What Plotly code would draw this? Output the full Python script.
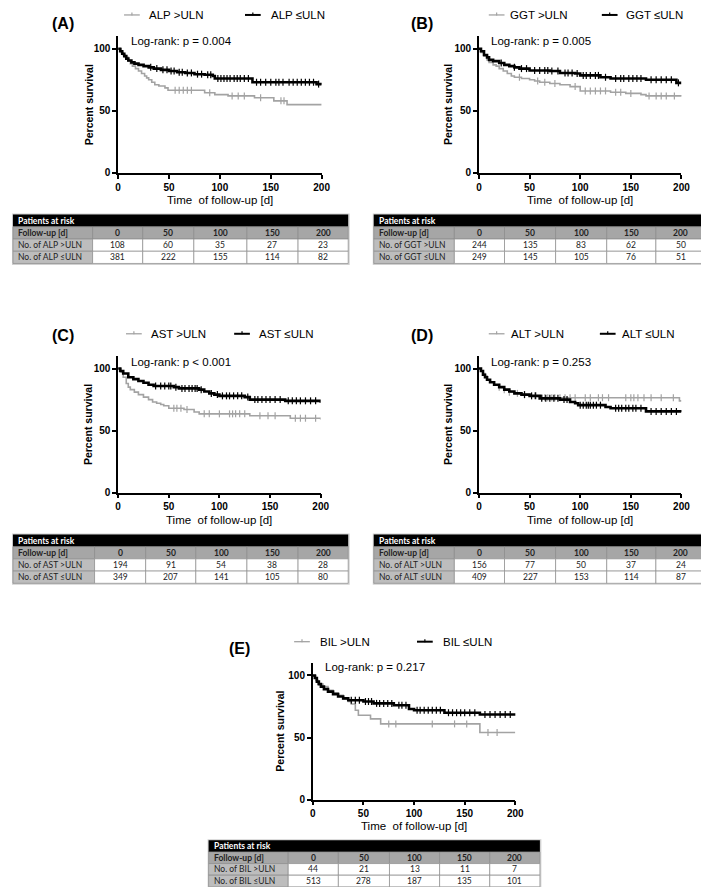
import numpy as np
import plotly.graph_objects as go

W, H = 709, 887

# ---------------- data ----------------
FOLLOW_UP = [0, 50, 100, 150, 200]

# Panel A (ALP)
A_hi_t = [0, 3, 5, 7, 10, 12, 14, 17, 20, 23, 26, 28, 30, 33, 36, 40, 46, 49, 85, 95, 108, 134, 153, 166, 200]
A_hi_s = [100, 97, 95, 93, 90, 88, 86, 84, 82, 80, 78, 76.5, 75, 73, 71, 70, 68.5, 66.5, 64.5, 63, 62, 60.5, 58, 55, 55]
A_hi_c = [56, 60, 64, 68, 72, 90, 112, 118, 124, 140, 160, 163]
A_lo_t = [0, 2, 4, 6, 8, 10, 13, 16, 20, 25, 30, 35, 42, 50, 58, 66, 75, 85, 93, 95, 132, 195, 200]
A_lo_s = [100, 98, 96, 94, 92, 90.5, 89, 88, 87, 86, 85, 84, 83, 82, 81, 80.5, 79.5, 79, 78, 76, 73, 71.5, 71]
A_lo_c = [32, 38, 44, 48, 52, 55, 60, 63, 68, 72, 78, 82, 88, 91, 98, 101, 104, 107, 110, 114, 117, 120,
          124, 128, 136, 140, 145, 150, 155, 158, 162, 168, 172, 176, 180, 184, 188, 192, 197]
A_risk_hi = [108, 60, 35, 27, 23]
A_risk_lo = [381, 222, 155, 114, 82]

# Panel B (GGT)
B_hi_t = [0, 2, 5, 8, 10, 14, 17, 20, 24, 28, 32, 35, 42, 50, 55, 60, 70, 80, 90, 100, 130, 145, 160, 165, 200]
B_hi_s = [100, 97, 94, 91, 89, 87, 86, 84, 82, 80, 78, 77, 76, 75, 74, 73, 72, 71, 69.5, 66, 65, 64, 63, 62, 61.5]
B_hi_c = [40, 58, 65, 75, 95, 105, 110, 115, 120, 125, 135, 140, 150, 168, 175, 180, 185, 193]
B_lo_t = [0, 2, 5, 8, 10, 14, 20, 25, 30, 35, 40, 50, 70, 80, 95, 100, 120, 130, 165, 195, 200]
B_lo_s = [100, 98, 95, 93, 91, 90, 88.5, 87, 86, 85, 84, 82.5, 82, 80.5, 80, 78.5, 77, 76, 75, 72.5, 72.5]
B_lo_c = [22, 35, 42, 47, 55, 60, 65, 68, 72, 78, 85, 88, 92, 97, 103, 106, 110, 115, 118, 125, 135, 140,
          143, 148, 152, 156, 160, 170, 175, 180, 185, 190, 197]
B_risk_hi = [244, 135, 83, 62, 50]
B_risk_lo = [249, 145, 105, 76, 51]

# Panel C (AST)
C_hi_t = [0, 3, 5, 8, 10, 12, 16, 20, 25, 30, 34, 38, 42, 45, 50, 65, 75, 80, 130, 170, 200]
C_hi_s = [100, 97, 93, 88, 85, 83, 81, 79, 77, 75, 73, 72, 71, 70, 68, 67, 65, 63.5, 62, 60, 59]
C_hi_c = [55, 58, 62, 68, 85, 90, 100, 110, 113, 116, 120, 125, 140, 148, 155, 175, 180, 185, 195]
C_lo_t = [0, 2, 5, 10, 15, 20, 25, 30, 35, 55, 60, 80, 85, 90, 95, 100, 125, 130, 165, 200]
C_lo_s = [100, 98, 96, 93, 91.5, 90, 88.5, 87, 86, 85, 84, 83, 81.5, 80, 79, 78, 77, 75, 74, 72.5]
C_lo_c = [37, 42, 46, 50, 52, 57, 63, 66, 70, 73, 76, 78, 82, 92, 98, 103, 107, 110, 114, 118, 122, 128,
          135, 138, 142, 146, 150, 155, 160, 168, 172, 176, 180, 185, 190, 195]
C_risk_hi = [194, 91, 54, 38, 28]
C_risk_lo = [349, 207, 141, 105, 80]

# Panel D (ALT)
D_hi_t = [0, 2, 4, 6, 8, 11, 15, 20, 25, 30, 35, 42, 50, 60, 198, 200]
D_hi_s = [100, 98, 96, 94, 91, 89, 87, 85, 83, 81, 80, 79, 78, 76.5, 74, 74]
D_hi_c = [20, 25, 30, 38, 45, 55, 62, 65, 68, 72, 75, 80, 85, 90, 95, 105, 110, 118, 122, 128, 145, 150,
          153, 157, 163, 170, 180, 192]
D_lo_t = [0, 2, 4, 6, 8, 11, 15, 20, 25, 30, 35, 42, 50, 60, 80, 90, 95, 98, 125, 130, 165, 200]
D_lo_s = [100, 98, 95, 93, 91, 89, 87, 85, 83, 81.5, 80, 79, 78, 76, 75, 73, 72, 70.5, 69, 68, 65.5, 65]
D_lo_c = [45, 52, 56, 62, 66, 70, 74, 78, 84, 87, 100, 103, 106, 108, 110, 113, 116, 120, 135, 138, 141,
          145, 148, 152, 155, 160, 170, 175, 180, 185, 190, 195]
D_risk_hi = [156, 77, 50, 37, 24]
D_risk_lo = [409, 227, 153, 114, 87]

# Panel E (BIL)
E_hi_t = [0, 3, 5, 10, 15, 20, 25, 30, 35, 38, 42, 45, 57, 67, 165, 200]
E_hi_s = [100, 96, 93, 91, 88, 86, 84, 81, 79, 77, 72, 68, 65, 61, 54, 54]
E_hi_c = [75, 82, 118, 140, 152, 173, 182]
E_lo_t = [0, 2, 4, 6, 8, 11, 15, 20, 25, 30, 35, 50, 60, 80, 95, 100, 130, 165, 200]
E_lo_s = [100, 98, 95, 93, 91, 89, 87, 85, 83, 81.5, 80, 79, 77.5, 76, 73, 72, 70, 68.5, 67.5]
E_lo_c = [38, 42, 46, 52, 55, 58, 63, 66, 70, 74, 78, 85, 88, 92, 103, 106, 110, 114, 118, 122, 126, 134,
          138, 142, 146, 150, 155, 160, 170, 175, 180, 185, 190, 195]
E_risk_hi = [44, 21, 13, 11, 7]
E_risk_lo = [513, 278, 187, 135, 101]

# ---------------- layout (pixels) ----------------
GREY = "#a3a3a3"
FONT = "Liberation Sans, Arial, sans-serif"
TFONT = "Lato, Open Sans, sans-serif"

panels = [
    dict(key="A", name="ALP", hi=(A_hi_t, A_hi_s, A_hi_c), lo=(A_lo_t, A_lo_s, A_lo_c),
         risk=(A_risk_hi, A_risk_lo), p="Log-rank: p = 0.004", lo_row="No. of ALP ≤ULN",
         x0=109, x1=316, ytop=28.5, ybot=166, lab=(53, 16), leg_y=7,
         leg=(115, 138, 238, 262), lr=(120, 33), ylab_x=79,
         tbl_top=208, tbl_left=2, cols=[83, 134, 186, 240, 292, 343], rh=12.3),
    dict(key="B", name="GGT", hi=(B_hi_t, B_hi_s, B_hi_c), lo=(B_lo_t, B_lo_s, B_lo_c),
         risk=(B_risk_hi, B_risk_lo), p="Log-rank: p = 0.005", lo_row="No. of GGT ≤ULN",
         x0=476, x1=682, ytop=28.5, ybot=166, lab=(418, 16), leg_y=7,
         leg=(486, 506, 601, 624), lr=(486, 33), ylab_x=444,
         tbl_top=208, tbl_left=369, cols=[451, 502, 554, 606, 656, 707], rh=12.3),
    dict(key="C", name="AST", hi=(C_hi_t, C_hi_s, C_hi_c), lo=(C_lo_t, C_lo_s, C_lo_c),
         risk=(C_risk_hi, C_risk_lo), p="Log-rank: p < 0.001", lo_row="No. of AST ≤ULN",
         x0=109, x1=315, ytop=350.5, ybot=488, lab=(53, 330), leg_y=328,
         leg=(117, 140, 227, 250), lr=(120, 356), ylab_x=79,
         tbl_top=530, tbl_left=2, cols=[85, 137, 188, 240, 292, 343], rh=12.3),
    dict(key="D", name="ALT", hi=(D_hi_t, D_hi_s, D_hi_c), lo=(D_lo_t, D_lo_s, D_lo_c),
         risk=(D_risk_hi, D_risk_lo), p="Log-rank: p = 0.253", lo_row="No. of ALT ≤ULN",
         x0=476, x1=682, ytop=350.5, ybot=488, lab=(418, 330), leg_y=328,
         leg=(486, 507, 599, 619), lr=(486, 356), ylab_x=445,
         tbl_top=530, tbl_left=369, cols=[451, 502, 554, 606, 656, 707], rh=12.3),
    dict(key="E", name="BIL", hi=(E_hi_t, E_hi_s, E_hi_c), lo=(E_lo_t, E_lo_s, E_lo_c),
         risk=(E_risk_hi, E_risk_lo), p="Log-rank: p = 0.217", lo_row="No. of BIL ≤ULN",
         x0=307, x1=513, ytop=659.5, ybot=797, lab=(232, 645), leg_y=638,
         leg=(288, 312, 413, 437), lr=(317, 663), ylab_x=274,
         tbl_top=838, tbl_left=201, cols=[282, 333, 385, 436, 487, 538], rh=11.7),
]


def fx(x):
    return x / W


def fy(y):
    return 1 - y / H


def step_at(t, s, c):
    t = np.asarray(t, float)
    s = np.asarray(s, float)
    idx = np.searchsorted(t, np.asarray(c, float), side="right") - 1
    return s[idx]


fig = go.Figure()
shapes = []
annos = []
layout_axes = {}

for i, P in enumerate(panels):
    n = i + 1
    xa = "x" if n == 1 else f"x{n}"
    ya = "y" if n == 1 else f"y{n}"
    xkey = "xaxis" if n == 1 else f"xaxis{n}"
    ykey = "yaxis" if n == 1 else f"yaxis{n}"

    for (t, s, c), col, lw, msz in [(P["hi"], GREY, 1.6, 5), (P["lo"], "black", 2.6, 5)]:
        fig.add_trace(go.Scatter(x=t, y=s, mode="lines", line=dict(color=col, width=lw, shape="hv"),
                                 xaxis=xa, yaxis=ya, showlegend=False, cliponaxis=False, hoverinfo="skip"))
        fig.add_trace(go.Scatter(x=c, y=step_at(t, s, c), mode="markers",
                                 marker=dict(symbol="line-ns-open", size=msz, color=col,
                                             line=dict(color=col, width=1.2)),
                                 xaxis=xa, yaxis=ya, showlegend=False, cliponaxis=False, hoverinfo="skip"))

    layout_axes[xkey] = dict(domain=[fx(P["x0"]), fx(P["x1"])], range=[0, 200], anchor=ya,
                             showline=True, linecolor="black", linewidth=1.6, showgrid=False, zeroline=False,
                             ticks="outside", ticklen=4, tickwidth=1.6, tickcolor="black",
                             tickvals=FOLLOW_UP, ticktext=[f"<b>{v}</b>" for v in FOLLOW_UP],
                             tickfont=dict(family=FONT, size=10, color="black"))
    layout_axes[ykey] = dict(domain=[fy(P["ybot"]), fy(P["ytop"])], range=[0, 110], anchor=xa,
                             showline=True, linecolor="black", linewidth=1.6, showgrid=False, zeroline=False,
                             ticks="outside", ticklen=4, tickwidth=1.6, tickcolor="black",
                             tickvals=[0, 50, 100], ticktext=["<b>0</b>", "<b>50</b>", "<b>100</b>"],
                             tickfont=dict(family=FONT, size=10, color="black"))

    # panel label
    lx, ly = P["lab"]
    annos.append(dict(x=fx(lx), y=fy(ly), xref="paper", yref="paper", text=f"<b>({P['key']})</b>",
                      showarrow=False, font=dict(family=FONT, size=16, color="black"),
                      xanchor="center", yanchor="middle"))
    # legend
    gx, gtx, bx, btx = P["leg"]
    yy = fy(P["leg_y"])
    for sx, tx, col, lw, lbl in [(gx, gtx, GREY, 1.3, f"{P['name']} >ULN"),
                                 (bx, btx, "black", 2.0, f"{P['name']} ≤ULN")]:
        shapes.append(dict(type="line", xref="paper", yref="paper", x0=fx(sx), x1=fx(sx + 16),
                           y0=yy, y1=yy, line=dict(color=col, width=lw)))
        shapes.append(dict(type="line", xref="paper", yref="paper", x0=fx(sx + 8), x1=fx(sx + 8),
                           y0=fy(P["leg_y"] - 2.5), y1=fy(P["leg_y"] + 0.5), line=dict(color=col, width=1.2)))
        annos.append(dict(x=fx(tx), y=yy, xref="paper", yref="paper", text=lbl, showarrow=False,
                          font=dict(family=FONT, size=11.5, color="black"), xanchor="left", yanchor="middle"))
    # log-rank
    annos.append(dict(x=fx(P["lr"][0]), y=fy(P["lr"][1]), xref="paper", yref="paper", text=P["p"],
                      showarrow=False, font=dict(family=FONT, size=11.5, color="black"),
                      xanchor="left", yanchor="middle"))
    # axis titles
    annos.append(dict(x=fx(P["ylab_x"]), y=fy((P["ytop"] + P["ybot"]) / 2), xref="paper", yref="paper",
                      text="<b>Percent survival</b>", textangle=-90, showarrow=False,
                      font=dict(family=FONT, size=10.5, color="black"), xanchor="center", yanchor="middle"))
    annos.append(dict(x=fx((P["x0"] + P["x1"]) / 2), y=fy(P["ybot"] + 27), xref="paper", yref="paper",
                      text="Time  of follow-up [d]", showarrow=False,
                      font=dict(family=FONT, size=11.5, color="black"), xanchor="center", yanchor="middle"))

    # table
    top, left, cols, rh = P["tbl_top"], P["tbl_left"], P["cols"], P["rh"]
    right = cols[-1]
    shapes.append(dict(type="rect", xref="paper", yref="paper", x0=fx(left - 1), x1=fx(right + 1.5),
                       y0=fy(top + 4 * rh + 1.5), y1=fy(top - 1), line=dict(width=0), fillcolor="#d0d0d0",
                       layer="below"))
    shapes.append(dict(type="rect", xref="paper", yref="paper", x0=fx(left), x1=fx(right),
                       y0=fy(top + rh), y1=fy(top), line=dict(width=0), fillcolor="black"))
    annos.append(dict(x=fx(left + 3), y=fy(top + rh / 2), xref="paper", yref="paper",
                      text="<b>Patients at risk</b>", showarrow=False, xanchor="left", yanchor="middle",
                      font=dict(family=TFONT, size=8.5, color="white")))
    rows = [("Follow-up [d]", FOLLOW_UP, True),
            (f"No. of {P['name']} >ULN", P["risk"][0], False),
            (P["lo_row"], P["risk"][1], False)]
    edges = [left] + cols
    for r, (rl, vals, is_head) in enumerate(rows):
        y0 = top + rh * (r + 1)
        y1 = y0 + rh
        for cidx in range(6):
            xa0, xa1 = edges[cidx], edges[cidx + 1]
            if is_head:
                fill = "#a6a6a6"
            elif cidx == 0:
                fill = "#bdbdbd"
            else:
                fill = "white"
            shapes.append(dict(type="rect", xref="paper", yref="paper", x0=fx(xa0), x1=fx(xa1),
                               y0=fy(y1), y1=fy(y0), line=dict(color="#8c8c8c", width=0.7), fillcolor=fill))
        txt = f"<b>{rl}</b>" if is_head else rl
        annos.append(dict(x=fx(left + 3), y=fy(y0 + rh / 2), xref="paper", yref="paper", text=txt,
                          showarrow=False, xanchor="left", yanchor="middle",
                          font=dict(family=TFONT, size=8.5, color="#222222")))
        for cidx, v in enumerate(vals):
            cx = (edges[cidx + 1] + edges[cidx + 2]) / 2
            txt = f"<b>{v}</b>" if is_head else str(v)
            annos.append(dict(x=fx(cx), y=fy(y0 + rh / 2), xref="paper", yref="paper", text=txt,
                              showarrow=False, xanchor="center", yanchor="middle",
                              font=dict(family=TFONT, size=8.5, color="#222222")))

fig.update_layout(width=W, height=H, margin=dict(l=0, r=0, t=0, b=0), paper_bgcolor="white",
                  plot_bgcolor="rgba(0,0,0,0)", shapes=shapes, annotations=annos, showlegend=False,
                  **layout_axes)
fig.write_html("out.html")
